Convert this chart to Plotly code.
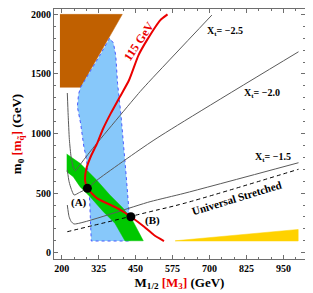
import plotly.graph_objects as go

# ---------------- data ----------------
x_ticks = [200, 325, 450, 575, 700, 825, 950]
y_ticks = [0, 500, 1000, 1500, 2000]

brown_x = [194, 405, 264, 194]
brown_y = [2000, 2000, 1388, 1388]

blue_x = [264, 300, 330, 362, 375, 383, 389, 400, 411, 418, 426, 433, 300, 292, 283, 275, 264, 253, 257, 264]
blue_y = [1388, 1530, 1660, 1800, 1760, 1653, 1420, 1169, 889, 650, 400, 98, 98, 600, 800, 889, 1085, 1225, 1330, 1388]

green_x = [217, 262, 318, 363, 408, 442, 476, 414, 380, 341, 296, 262, 239, 217]
green_y = [828, 750, 610, 484, 372, 260, 100, 100, 247, 344, 470, 554, 638, 680]

yellow_x = [584, 1000, 1000, 584]
yellow_y = [98, 98, 195, 100]

higgs_x = [558, 533, 490, 460, 428, 395, 366, 340, 320, 298, 283, 279, 287, 320, 366, 400, 434, 479, 512, 546]
higgs_y = [2000, 1950, 1790, 1658, 1449, 1300, 1169, 1040, 918, 805, 700, 610, 540, 456, 400, 358, 302, 218, 148, 98]

xt25_x = [219, 222, 226, 232, 240, 247, 255, 300, 465, 501, 708]
xt25_y = [1340, 1150, 950, 800, 710, 688, 715, 860, 1351, 1449, 1994]

xt20_x = [219, 225, 233, 242, 260, 287, 320, 512, 1001]
xt20_y = [694, 596, 530, 484, 505, 540, 610, 945, 1686]

xt15_x = [219, 225, 232, 242, 499, 614, 1001]
xt15_y = [400, 302, 262, 241, 428, 498, 755]

univ_x = [219, 499, 614, 1001]
univ_y = [176, 344, 414, 700]

points_x = [287, 434]
points_y = [540, 302]
point_labels = ["(A)", "(B)"]
label_x = [260, 507]
label_y = [425, 274]

xt_labels = ["X<sub>t</sub>= \u22122.5", "X<sub>t</sub>= \u22122.0", "X<sub>t</sub>= \u22121.5"]
xt_label_x = [753, 878, 915]
xt_label_y = [1860, 1340, 803]

# ---------------- figure ----------------
FONT = "Liberation Serif"
RED = "rgb(235,0,0)"
fig = go.Figure()

def poly(x, y, fill, line=None, dash=None, width=0):
    fig.add_trace(go.Scatter(
        x=x, y=y, mode="lines", fill="toself", fillcolor=fill,
        line=dict(color=line or fill, width=width, dash=dash),
        hoverinfo="skip", showlegend=False))

poly(brown_x, brown_y, "rgb(192,96,0)", width=0.5)
poly(blue_x, blue_y, "rgb(135,200,250)", line="rgb(70,90,255)", dash="dot", width=1)
poly(green_x, green_y, "rgb(0,200,0)", width=0.5)
poly(yellow_x, yellow_y, "rgb(255,210,0)", width=0.5)

for xs, ys in [(xt25_x, xt25_y), (xt20_x, xt20_y), (xt15_x, xt15_y)]:
    fig.add_trace(go.Scatter(x=xs, y=ys, mode="lines",
                             line=dict(color="rgb(90,90,90)", width=1, shape="spline", smoothing=0.6),
                             hoverinfo="skip", showlegend=False))

fig.add_trace(go.Scatter(x=univ_x, y=univ_y, mode="lines",
                         line=dict(color="black", width=1, dash="4px,3px", shape="spline"),
                         hoverinfo="skip", showlegend=False))

fig.add_trace(go.Scatter(x=higgs_x, y=higgs_y, mode="lines",
                         line=dict(color=RED, width=2, shape="spline", smoothing=0.6),
                         hoverinfo="skip", showlegend=False))

fig.add_trace(go.Scatter(x=points_x, y=points_y, mode="markers", marker=dict(color="black", size=9),
                         hoverinfo="skip", showlegend=False))

for t, x, y in zip(point_labels, label_x, label_y):
    fig.add_annotation(x=x, y=y, text="<b>%s</b>" % t, showarrow=False,
                       font=dict(family=FONT, size=11, color="black"))
for t, x, y in zip(xt_labels, xt_label_x, xt_label_y):
    fig.add_annotation(x=x, y=y, text="<b>%s</b>" % t, showarrow=False,
                       font=dict(family=FONT, size=10, color="black"))

fig.add_annotation(x=462, y=1775, text="<b>115 GeV</b>", showarrow=False, textangle=-56,
                   font=dict(family=FONT, size=12, color=RED))
fig.add_annotation(x=790, y=463, text="<b>Universal Stretched</b>", showarrow=False, textangle=-17,
                   font=dict(family=FONT, size=11, color="black"))

axis_common = dict(showgrid=False, zeroline=False, showline=True, linecolor="rgb(110,110,110)", linewidth=1,
                   mirror="ticks", ticks="inside", ticklen=4, tickcolor="rgb(110,110,110)",
                   tickfont=dict(family=FONT, size=10, color="black"))

fig.update_xaxes(range=[174, 1023], tickvals=x_ticks, ticktext=["<b>%d</b>" % v for v in x_ticks],
                 minor=dict(dtick=125 / 3, tick0=200, ticks="inside", ticklen=2, tickcolor="rgb(110,110,110)"),
                 title=dict(text="<b>M<sub>1/2</sub> <span style='color:rgb(235,0,0)'>[M<sub>3</sub>]</span> (GeV)</b>",
                            font=dict(family=FONT, size=13, color="black"), standoff=4),
                 **axis_common)
fig.update_yaxes(range=[-53, 2045], tickvals=y_ticks, ticktext=["<b>%d</b>" % v for v in y_ticks],
                 minor=dict(dtick=100, tick0=0, ticks="inside", ticklen=2, tickcolor="rgb(110,110,110)"),
                 title=dict(text="<b>m<sub>0</sub> <span style='color:rgb(235,0,0)'>[m<sub>q\u0303</sub>]</span> (GeV)</b>",
                            font=dict(family=FONT, size=13, color="black"), standoff=6),
                 **axis_common)

# the page body adds an 8px offset, so the figure is sized and placed to compensate
fig.update_layout(width=305, height=285, margin=dict(l=46, r=8, t=1, b=34),
                  plot_bgcolor="white", paper_bgcolor="white", showlegend=False)

fig.write_html("out.html")
